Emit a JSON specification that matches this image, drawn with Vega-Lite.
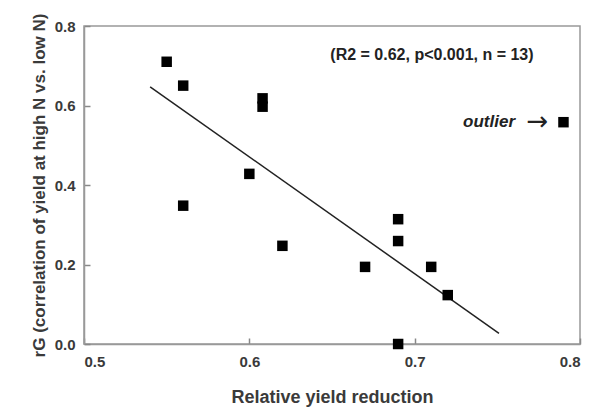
{
  "$schema": "https://vega.github.io/schema/vega-lite/v6.json",
  "width": 496,
  "height": 318,
  "autosize": {"type": "none"},
  "padding": {"left": 84, "top": 26, "right": 19, "bottom": 67},
  "background": "white",
  "config": {
    "view": {"stroke": "#999", "strokeWidth": 1.5},
    "font": "Liberation Sans",
    "axis": {
      "domainColor": "#999",
      "domainWidth": 1.5,
      "tickColor": "#888",
      "tickWidth": 1.5,
      "tickSize": -6,
      "grid": false,
      "labelFont": "Liberation Sans",
      "labelFontWeight": "bold",
      "labelFontSize": 15,
      "labelColor": "#3a3a3a",
      "titleFont": "Liberation Sans",
      "titleFontWeight": "bold",
      "titleColor": "#3a3a3a"
    }
  },
  "datasets": {
    "pts": [
      {"x": 0.55, "y": 0.71},
      {"x": 0.56, "y": 0.65},
      {"x": 0.608, "y": 0.618},
      {"x": 0.608, "y": 0.597},
      {"x": 0.60, "y": 0.428},
      {"x": 0.56, "y": 0.348},
      {"x": 0.62, "y": 0.247},
      {"x": 0.67, "y": 0.194},
      {"x": 0.69, "y": 0.314},
      {"x": 0.69, "y": 0.259},
      {"x": 0.71, "y": 0.194},
      {"x": 0.72, "y": 0.123},
      {"x": 0.69, "y": 0.0},
      {"x": 0.79, "y": 0.558}
    ],
    "fit": [
      {"x": 0.54, "y": 0.647},
      {"x": 0.751, "y": 0.027}
    ],
    "notes": [
      {"x": 0.649, "y": 0.727, "label": "(R2 = 0.62, p<0.001, n = 13)"}
    ],
    "outl": [
      {"x": 0.7607, "y": 0.558, "label": "outlier"}
    ],
    "arrow": [
      {"x": 0.7743, "y": 0.558, "label": "→"}
    ]
  },
  "layer": [
    {
      "data": {"name": "fit"},
      "mark": {"type": "line", "color": "#222", "strokeWidth": 1.5},
      "encoding": {
        "x": {"field": "x", "type": "quantitative", "scale": {"domain": [0.5, 0.8], "nice": false},
              "axis": {"values": [0.5, 0.6, 0.7, 0.8], "format": ".1f", "title": "Relative yield reduction", "titleFontSize": 18, "titlePadding": 19, "labelPadding": 16}},
        "y": {"field": "y", "type": "quantitative", "scale": {"domain": [0, 0.8], "nice": false},
              "axis": {"values": [0, 0.2, 0.4, 0.6, 0.8], "format": ".1f", "title": "rG (correlation of yield at high N vs. low N)", "titleFontSize": 17, "titlePadding": 6, "labelPadding": 15}}
      }
    },
    {
      "data": {"name": "pts"},
      "mark": {"type": "square", "color": "black", "filled": true, "size": 110, "opacity": 1},
      "encoding": {
        "x": {"field": "x", "type": "quantitative"},
        "y": {"field": "y", "type": "quantitative"}
      }
    },
    {
      "data": {"name": "notes"},
      "mark": {"type": "text", "align": "left", "baseline": "middle", "fontSize": 16, "fontWeight": "bold", "color": "#222"},
      "encoding": {
        "x": {"field": "x", "type": "quantitative"},
        "y": {"field": "y", "type": "quantitative"},
        "text": {"field": "label"}
      }
    },
    {
      "data": {"name": "outl"},
      "mark": {"type": "text", "align": "right", "baseline": "middle", "fontSize": 17, "fontWeight": "bold", "fontStyle": "italic", "color": "#222"},
      "encoding": {
        "x": {"field": "x", "type": "quantitative"},
        "y": {"field": "y", "type": "quantitative"},
        "text": {"field": "label"}
      }
    },
    {
      "data": {"name": "arrow"},
      "mark": {"type": "text", "align": "center", "baseline": "middle", "fontSize": 26, "font": "DejaVu Sans", "color": "#222"},
      "encoding": {
        "x": {"field": "x", "type": "quantitative"},
        "y": {"field": "y", "type": "quantitative"},
        "text": {"field": "label"}
      }
    }
  ]
}
